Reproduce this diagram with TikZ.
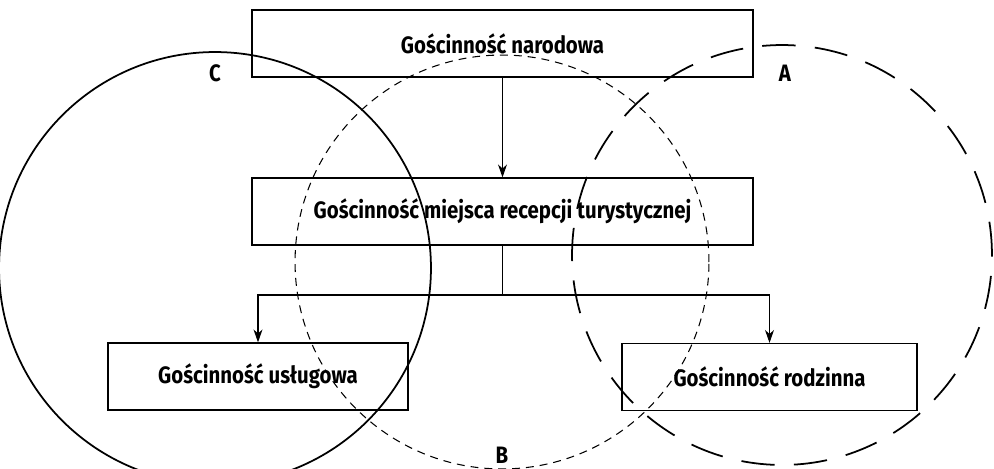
\documentclass[tikz,border=0pt]{standalone}
\usepackage{fontspec}
\setmainfont{Fira Sans}[FakeStretch=0.86]
\usetikzlibrary{arrows.meta}
\tikzset{
  box/.style={draw,rectangle,line width=0.7pt,minimum height=1.34cm,font=\fontsize{13.5}{15}\selectfont\bfseries},
  lbl/.style={font=\fontsize{13.5}{15}\selectfont\bfseries},
  arr/.style={-{Stealth[length=2.6mm,width=1.8mm]},line width=0.6pt}
}
\begin{document}
\begin{tikzpicture}[x=0.02cm,y=-0.02cm]
  \useasboundingbox (0,0) rectangle (994,469);

  \node (natl) at (502.5,43.5) [box,minimum width=10.02cm]{Gościnność narodowa};
  \node (dest) at (502.5,211.5) [box,minimum width=10.02cm]{Gościnność miejsca recepcji turystycznej};
  \node (serv) at (258,376.5) [box,minimum width=6cm]{Gościnność usługowa};
  \node (fam) at (769.5,377) [box,minimum width=5.9cm]{Gościnność rodzinna};
  \coordinate (split) at (502.5,295);

  \draw[arr] (natl) -- (dest);
  \draw[line width=0.6pt] (dest) -- (split);
  \draw[arr] (split) -| (serv);
  \draw[arr] (split) -| (fam);

  % circles
  \draw[line width=1pt] (215,268) circle[radius=4.32cm];
  \draw[dash pattern=on 4.5pt off 3.4pt,line width=0.6pt] (502,262) circle[radius=4.14cm];
  \draw[dash pattern=on 19pt off 11pt,line width=1pt] (782,255) circle[radius=4.2cm];

  \node (labc) at (215,73) [lbl]{C};
  \node (laba) at (785,73) [lbl]{A};
  \node (labb) at (502,455) [lbl]{B};

\end{tikzpicture}
\end{document}
